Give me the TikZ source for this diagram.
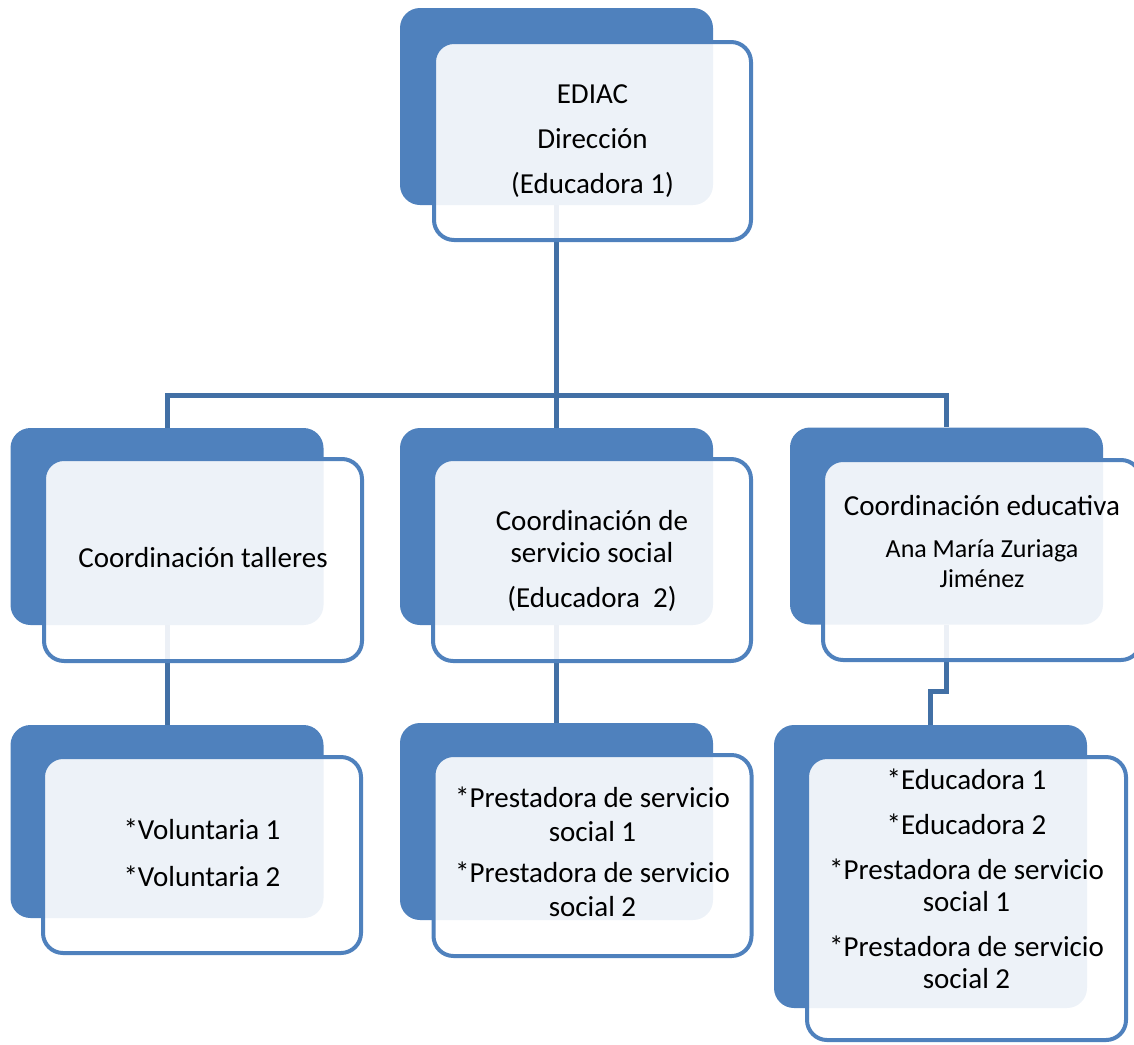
\documentclass[tikz,border=0pt]{standalone}
\usepackage{fontspec}
\setmainfont{Carlito}
\definecolor{boxblue}{HTML}{4F81BD}
\definecolor{linkblue}{HTML}{4270A5}
\newcommand{\smallname}{\fontsize{26}{30}\selectfont}
\begin{document}
\begin{tikzpicture}[x=1pt,y=-1pt,
  back/.style={fill=boxblue, rounded corners=20pt, inner sep=0pt, minimum width=313pt, minimum height=197pt},
  front/.style={draw=boxblue, line width=4pt, fill=white, fill opacity=0.9, draw opacity=1, rounded corners=20pt, inner sep=0pt, minimum width=318pt, minimum height=200pt},
  txt/.style={inner sep=0pt, align=center, font=\fontsize{29}{32}\selectfont, text=black},
  link/.style={draw=linkblue, line width=5pt}]
\useasboundingbox (0,0) rectangle (1134,1044);
% back boxes
\node[back] (topbk) at (556.5,106.5) {};
\node[back] (l2lbk) at (167,526.5) {};
\node[back] (l2mbk) at (556.5,526.5) {};
\node[back] (l2rbk) at (946.5,526) {};
\node[back, minimum height=193pt] (l3lbk) at (167,821.5) {};
\node[back] (l3mbk) at (556.5,821.5) {};
\node[back, minimum height=283pt] (l3rbk) at (930.5,866.5) {};
% connectors
\coordinate (bus) at (556.5,396);
\draw[link] (topbk.south) -- (bus);
\draw[link] (l2lbk.north) -- ++(0,-32) -| (l2rbk.north);
\draw[link] (bus) -- (l2mbk.north);
\draw[link] (l2lbk.south) -- (l3lbk.north);
\draw[link] (l2mbk.south) -- (l3mbk.north);
\draw[link] (l2rbk.south) -- ++(0,67) -| (l3rbk.north);
% front boxes
\node[front, minimum width=317pt, minimum height=198pt] (topfr) at (592.5,141) {};
\node[front, minimum height=202pt] (l2lfr) at (203,560) {};
\node[front, minimum height=202pt] (l2mfr) at (592,560) {};
\node[front] (l2rfr) at (982,560) {};
\node[front, minimum height=196pt] (l3lfr) at (202,855) {};
\node[front, minimum height=201pt] (l3mfr) at (592.5,855.5) {};
\node[front, minimum width=319pt, minimum height=283pt] (l3rfr) at (966.5,898.5) {};
% texts
\node[txt] (toptx) at (592.5,141.5) {EDIAC\\[13pt]Dirección\\[13pt](Educadora 1)};
\node[txt] (l2ltx) at (203,557.5) {Coordinación talleres};
\node[txt] (l2mtx) at (592,561) {Coordinación de\\servicio social\\[13pt](Educadora~~2)};
\node[txt] (l2rtx) at (982,542) {Coordinación educativa\\[10pt]{\smallname Ana María Zuriaga}\\[-2pt]{\smallname Jiménez}};
\node[txt] (l3ltx) at (202,853) {*Voluntaria 1\\[15pt]*Voluntaria 2};
\node[txt] (l3mtx) at (592.5,852) {*Prestadora de servicio\\[2pt]social 1\\[9pt]*Prestadora de servicio\\[2pt]social 2};
\node[txt] (l3rtx) at (966.5,879) {*Educadora 1\\[13pt]*Educadora 2\\[13pt]*Prestadora de servicio\\social 1\\[13pt]*Prestadora de servicio\\social 2};
\end{tikzpicture}
\end{document}
